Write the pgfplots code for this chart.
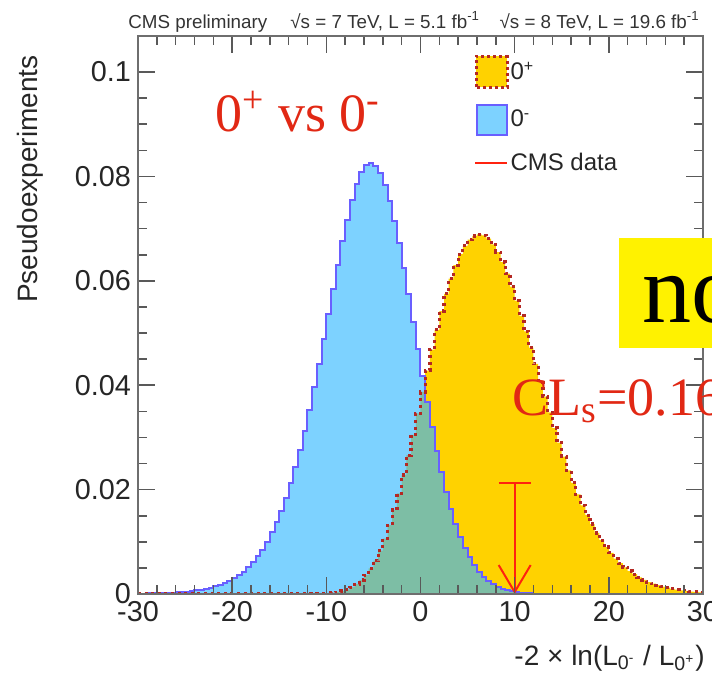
\documentclass[border=0pt]{standalone}
\usepackage{fontspec}
\setmainfont{Liberation Sans}
\newfontfamily\serif{Liberation Serif}
\usepackage{pgfplots}
\usepackage{pgfplotstable}
\pgfplotsset{compat=1.18}
\usetikzlibrary{arrows.meta}

\definecolor{gold}{RGB}{255,210,0}
\definecolor{skyb}{RGB}{125,210,255}
\definecolor{ovl}{RGB}{125,190,165}
\definecolor{bline}{RGB}{105,95,255}
\definecolor{dred}{RGB}{180,40,35}
\definecolor{datared}{RGB}{255,35,15}
\definecolor{txtred}{RGB}{225,40,20}
\definecolor{framec}{RGB}{110,110,110}

\pgfplotstableread{
x blue yellow ovl
-30 0.00007 0 0
-29.5 0.00008 0 0
-29 0.0001 0 0
-28.5 0.00012 0 0
-28 0.00015 0 0
-27.5 0.00018 0 0
-27 0.00022 0 0
-26.5 0.00027 0 0
-26 0.00032 0 0
-25.5 0.00039 0 0
-25 0.00047 0 0
-24.5 0.00057 0 0
-24 0.0007 0 0
-23.5 0.00085 0 0
-23 0.00101 0 0
-22.5 0.00122 0 0
-22 0.00148 0 0
-21.5 0.0018 0 0
-21 0.0021 0 0
-20.5 0.0025 0 0
-20 0.0031 0 0
-19.5 0.0037 0 0
-19 0.0043 0 0
-18.5 0.0052 0 0
-18 0.0061 0 0
-17.5 0.0073 0 0
-17 0.0085 0 0
-16.5 0.0100 0 0
-16 0.0118 0 0
-15.5 0.0137 0 0
-15 0.0159 0 0
-14.5 0.0184 0 0
-14 0.0212 0 0
-13.5 0.0243 0 0
-13 0.0276 0 0
-12.5 0.0313 0.00002 0.00002
-12 0.0353 0.00003 0.00003
-11.5 0.0396 0.00004 0.00004
-11 0.0440 0.00006 0.00006
-10.5 0.0488 0.00008 0.00008
-10 0.0536 0.00013 0.00013
-9.5 0.0584 0.00022 0.00022
-9 0.0631 0.00036 0.00036
-8.5 0.0676 0.00057 0.00057
-8 0.0717 0.00086 0.00086
-7.5 0.0754 0.0013 0.0013
-7 0.0785 0.00187 0.00187
-6.5 0.0808 0.0027 0.0027
-6 0.0822 0.0036 0.0036
-5.5 0.0826 0.0049 0.0049
-5 0.0820 0.0064 0.0064
-4.5 0.0806 0.0083 0.0083
-4 0.0783 0.0106 0.0106
-3.5 0.0753 0.0132 0.0132
-3 0.0715 0.0161 0.0161
-2.5 0.0672 0.0193 0.0193
-2 0.0625 0.0228 0.0228
-1.5 0.0574 0.0266 0.0266
-1 0.0522 0.0305 0.0305
-0.5 0.0469 0.0346 0.0346
0 0.0417 0.0387 0.0387
0.5 0.0367 0.0428 0.0367
1 0.0319 0.0468 0.0319
1.5 0.0274 0.0506 0.0274
2 0.0233 0.0542 0.0233
2.5 0.0196 0.0575 0.0196
3 0.0163 0.0604 0.0163
3.5 0.0134 0.0630 0.0134
4 0.0109 0.0651 0.0109
4.5 0.0088 0.0667 0.0088
5 0.0070 0.0679 0.0070
5.5 0.0055 0.0686 0.0055
6 0.0043 0.0689 0.0043
6.5 0.0033 0.0687 0.0033
7 0.0025 0.0681 0.0025
7.5 0.0019 0.0670 0.0019
8 0.0014 0.0655 0.0014
8.5 0.0010 0.0636 0.0010
9 0.00076 0.0614 0.00076
9.5 0.00054 0.0589 0.00054
10 0.00039 0.0562 0.00039
10.5 0.00027 0.0533 0.00027
11 0.00019 0.0503 0.00019
11.5 0.00013 0.0472 0.00013
12 0.00009 0.0441 0.00009
12.5 0.00006 0.0409 0.00006
13 0.00004 0.0378 0.00004
13.5 0 0.0348 0
14 0 0.0318 0
14.5 0 0.0290 0
15 0 0.0263 0
15.5 0 0.0237 0
16 0 0.0213 0
16.5 0 0.0191 0
17 0 0.0170 0
17.5 0 0.0151 0
18 0 0.0134 0
18.5 0 0.0117 0
19 0 0.0103 0
19.5 0 0.0090 0
20 0 0.0079 0
20.5 0 0.0068 0
21 0 0.0059 0
21.5 0 0.0051 0
22 0 0.0044 0
22.5 0 0.0038 0
23 0 0.0032 0
23.5 0 0.0027 0
24 0 0.0023 0
24.5 0 0.0020 0
25 0 0.0017 0
25.5 0 0.0014 0
26 0 0.0012 0
26.5 0 0.0010 0
27 0 0.00083 0
27.5 0 0.0007 0
28 0 0.00058 0
28.5 0 0.00048 0
29 0 0.0004 0
29.5 0 0.00033 0
30 0 0.00033 0
}\hist

\begin{document}
\begin{tikzpicture}
\path[use as bounding box] (0,0) rectangle (356pt,338.5pt);
\clip (0,0) rectangle (356pt,338.5pt);
\begin{axis}[
  at={(69pt,41.5pt)}, anchor=south west,
  width=282.5pt, height=279pt, scale only axis,
  xmin=-30, xmax=30, ymin=0, ymax=0.1069,
  xtick={-30,-20,-10,0,10,20,30}, xticklabels={-30,-20,-10,0,10,20,30},
  ytick={0,0.02,0.04,0.06,0.08,0.1}, yticklabels={0,0.02,0.04,0.06,0.08,0.1},
  minor x tick num=4, minor y tick num=3,
  tick align=inside, xtick pos=both, ytick pos=both,
  xticklabel pos=lower, yticklabel pos=left,
  major tick length=8.5pt, minor tick length=4.5pt,
  axis line style={framec, line width=1pt},
  every tick/.style={black!65, line width=0.8pt},
  ticklabel style={font=\fontsize{14.4}{16}\selectfont, text=black!85},
  axis on top,
  legend style={at={(axis description cs:0.5947,0.966)}, anchor=north west,
    draw=none, fill=none, inner sep=0pt, outer sep=0pt, row sep=7.5pt,
    font=\fontsize{12}{14}\selectfont, nodes={inner sep=1pt, text=black!85}},
  legend cell align=left,
]
\addplot[const plot, fill=gold, draw=none, forget plot] table[x=x,y=yellow]{\hist} \closedcycle;
\addplot[const plot, fill=skyb, draw=none, forget plot] table[x=x,y=blue]{\hist} \closedcycle;
\addplot[const plot, fill=ovl, draw=none, forget plot] table[x=x,y=ovl]{\hist} \closedcycle;
\addplot[const plot, bline, line width=1pt, forget plot] table[x=x,y=blue]{\hist};
\addplot[const plot, dred, line width=1.6pt, dash pattern=on 1.5pt off 1.8pt, forget plot] table[x=x,y=yellow]{\hist};
\addplot[datared, line width=1pt, forget plot,
  arrows={Bar[width=16pt,line width=1pt]-Straight Barb[length=13.5pt,width=16pt,line width=1pt]}]
  coordinates {(10,0.0215) (10,0)};

\addlegendimage{legend image code/.code={\draw[fill=gold,draw=dred,line width=1.5pt,dash pattern=on 1.5pt off 1.5pt] (0.7pt,-7.5pt) rectangle (16pt,8pt);}}
\addlegendentry{0\textsuperscript{+}}
\addlegendimage{legend image code/.code={\draw[fill=skyb,draw=bline,line width=1pt] (1pt,-7.5pt) rectangle (16pt,7.5pt);}}
\addlegendentry{0\textsuperscript{-}}
\addlegendimage{legend image code/.code={\draw[datared,line width=1pt] (0pt,0pt) -- (16pt,0pt);}}
\addlegendentry{CMS data}
\end{axis}

\begin{scope}[x=0.5pt,y=0.5pt]
\begin{scope}[font=\fontsize{9.4}{10}\selectfont, text=black!80]
\node[anchor=base west, inner sep=0pt] at (128,649) {CMS preliminary};
\node[anchor=base west, inner sep=0pt] at (290,649) {√s = 7 TeV, L = 5.1 fb\textsuperscript{-1}};
\node[anchor=base east, inner sep=0pt] at (700,649) {√s = 8 TeV, L = 19.6 fb\textsuperscript{-1}};
\end{scope}
\node[rotate=90, anchor=east, inner sep=0pt, font=\fontsize{14}{16}\selectfont, text=black!85] at (30,622) {Pseudoexperiments};
\node[anchor=base east, inner sep=0pt, font=\fontsize{14}{16}\selectfont, text=black!85] at (705,12) {-2 × ln(L\textsubscript{0\textsuperscript{-}} / L\textsubscript{0\textsuperscript{+}})};
\node[anchor=base west, inner sep=0pt, text=txtred, font=\serif\fontsize{27}{30}\selectfont] at (215,546) {0\textsuperscript{+} vs 0\textsuperscript{-}};
\fill[yellow] (619,329) rectangle (800,439);
\node[anchor=base west, inner sep=0pt, font=\serif\fontsize{49}{50}\selectfont] at (642,355) {not excluded};
\node[anchor=base west, inner sep=0pt, text=txtred, font=\serif\fontsize{27}{30}\selectfont] at (512,262) {CL\textsubscript{s}=0.16};
\end{scope}
\end{tikzpicture}
\end{document}
